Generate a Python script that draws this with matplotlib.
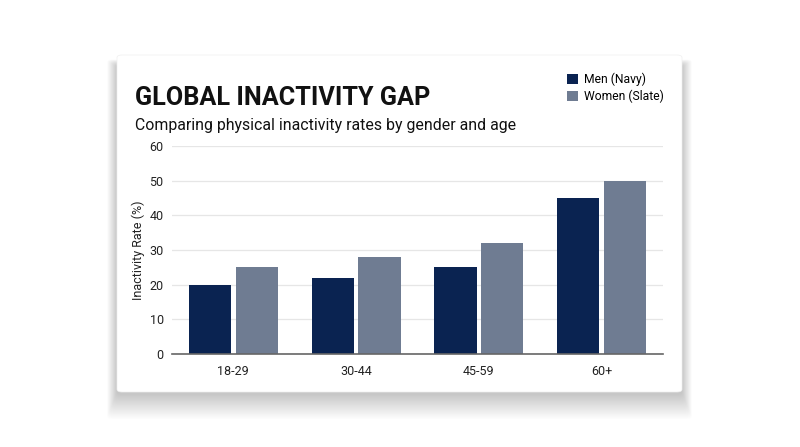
import matplotlib.pyplot as plt
import numpy as np
from matplotlib.patches import FancyBboxPatch

# -------------------------------
# Data
# -------------------------------
age_groups = ['18-29', '30-44', '45-59', '60+']
men = [20, 22, 25, 45]
women = [25, 28, 32, 50]
y_ticks = [0, 10, 20, 30, 40, 50, 60]

navy = '#0A2351'
slate = '#6F7C92'

plt.rcParams['font.family'] = ['Roboto', 'DejaVu Sans']

W, H = 800, 447
fig = plt.figure(figsize=(W / 100, H / 100), dpi=100)
fig.patch.set_facecolor('white')

# -------------------------------
# Card with soft shadow
# -------------------------------
cx0, cy0, cx1, cy1 = 117, 55, 682, 392  # pixel coords (top-left origin)


def px_box(x0, y0, x1, y1, **kw):
    return FancyBboxPatch((x0 / W, 1 - y1 / H), (x1 - x0) / W, (y1 - y0) / H,
                          boxstyle='round,pad=0,rounding_size=0.006',
                          transform=fig.transFigure, zorder=-5, **kw)


for i in range(28, 0, -1):
    fig.patches.append(px_box(cx0 - i * 0.35, cy0 + 10 - i * 0.2, cx1 + i * 0.35, cy1 + 2 + i * 0.9,
                              facecolor='black', edgecolor='none', alpha=0.006))
fig.patches.append(px_box(cx0, cy0, cx1, cy1, facecolor='white', edgecolor='#efefef', linewidth=0.5))

# -------------------------------
# Axes
# -------------------------------
ax = fig.add_axes([172 / W, 1 - 354 / H, 491 / W, 208 / H])
ax.set_facecolor('none')
ax.set_zorder(2)

x = np.arange(len(age_groups))
bw = 0.345
ax.bar(x - 0.19, men, width=bw, color=navy, label='Men (Navy)', zorder=3)
ax.bar(x + 0.19, women, width=bw, color=slate, label='Women (Slate)', zorder=3)

ax.set_xlim(-0.5, len(age_groups) - 0.5)
ax.set_ylim(0, 60)
ax.set_yticks(y_ticks)
ax.set_xticks(x)
ax.set_xticklabels(age_groups)
ax.tick_params(axis='both', length=0, labelsize=9, colors='#222222')
ax.tick_params(axis='x', pad=8)
ax.tick_params(axis='y', pad=6)
ax.grid(axis='y', color='#e6e6e6', linewidth=0.9, zorder=0)
for s in ['top', 'right', 'left']:
    ax.spines[s].set_visible(False)
ax.spines['bottom'].set_color('#666666')
ax.spines['bottom'].set_linewidth(1.2)
ax.spines['bottom'].set_zorder(4)
ax.set_ylabel('Inactivity Rate (%)', fontsize=9, color='#222222', labelpad=3)

# -------------------------------
# Titles and legend
# -------------------------------
fig.text(135 / W, 1 - 105 / H, 'GLOBAL INACTIVITY GAP', fontsize=18.2, fontweight='bold',
         color='#111111', va='baseline')
fig.text(135 / W, 1 - 118 / H, 'Comparing physical inactivity rates by gender and age',
         fontsize=11.4, color='#111111', va='top')

fig.legend(loc='upper left', bbox_to_anchor=(567 / W, 1 - 73 / H), frameon=False,
           fontsize=8.7, handlelength=0.9, handleheight=0.9, handletextpad=0.5,
           labelspacing=0.3, borderaxespad=0, borderpad=0)

fig.savefig('out.png', dpi=100, facecolor='white')
